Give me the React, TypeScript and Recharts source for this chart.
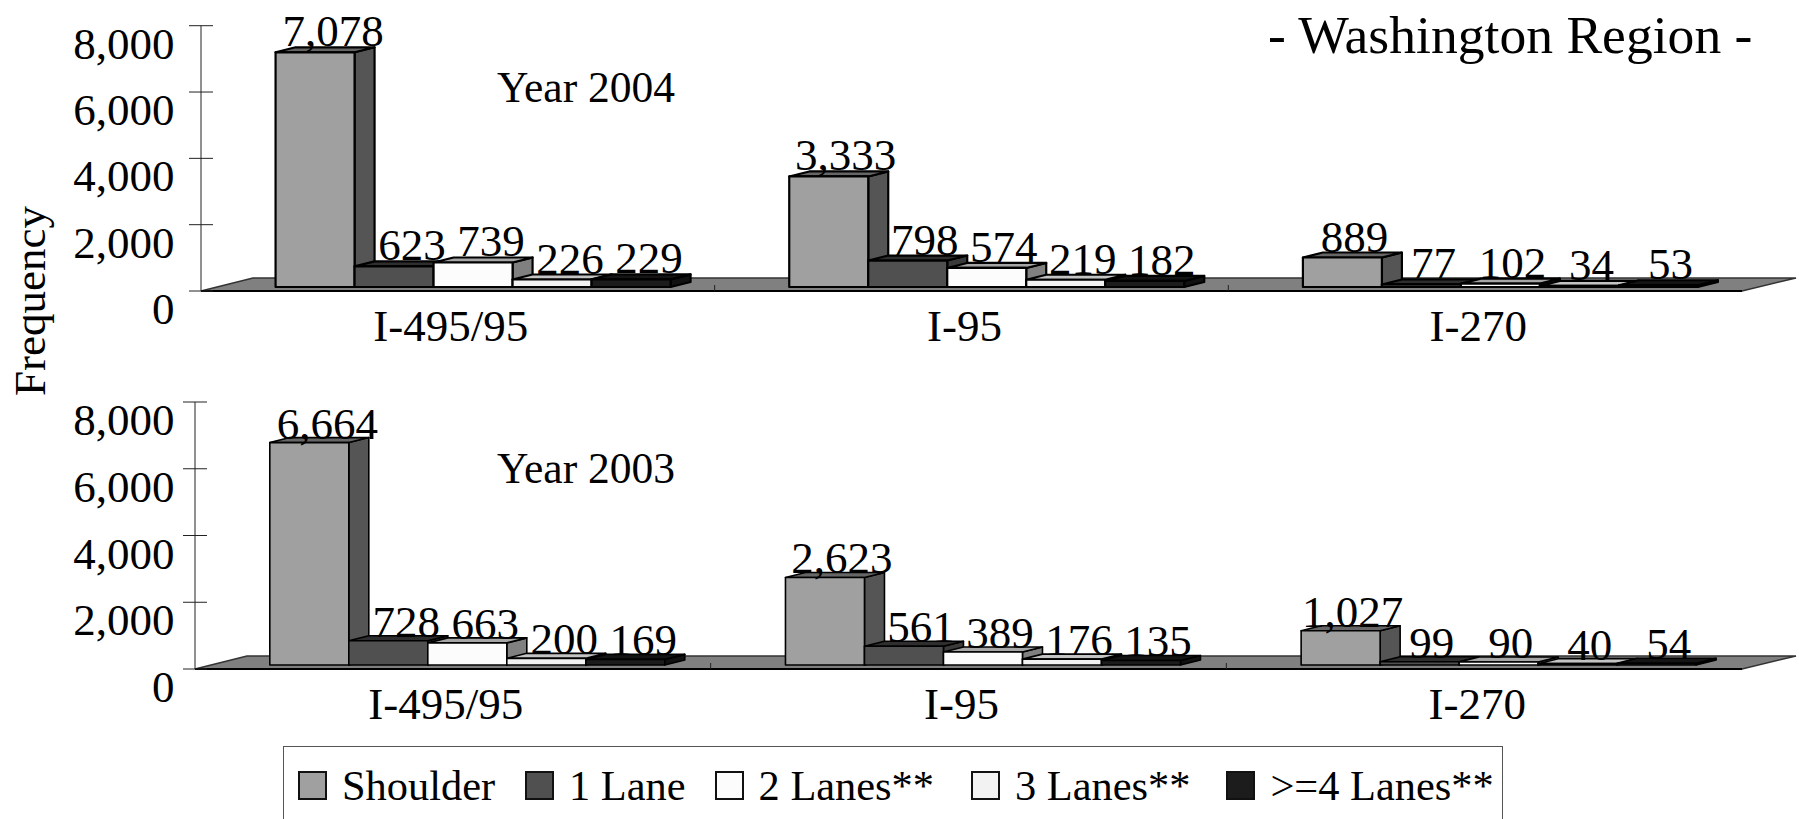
import { Bar, BarChart, LabelList, Legend, ReferenceArea, XAxis, YAxis } from "recharts";

const routes = ["I-495/95", "I-95", "I-270"];
const valueTicks = [0, 2000, 4000, 6000, 8000];

const seriesNames = ["Shoulder", "1 Lane", "2 Lanes**", "3 Lanes**", ">=4 Lanes**"];
const frontColors = ["#a0a0a0", "#505050", "#fcfcfc", "#f2f2f2", "#1c1c1c"];
const sideColors = ["#555555", "#3a3a3a", "#808080", "#8c8c8c", "#111111"];
const topColors = ["#666666", "#2e2e2e", "#a6a6a6", "#c4c4c4", "#141414"];

const shoulder2004 = [7078, 3333, 889];
const oneLane2004 = [623, 798, 77];
const twoLanes2004 = [739, 574, 102];
const threeLanes2004 = [226, 219, 34];
const fourLanes2004 = [229, 182, 53];

const shoulder2003 = [6664, 2623, 1027];
const oneLane2003 = [728, 561, 99];
const twoLanes2003 = [663, 389, 90];
const threeLanes2003 = [200, 176, 40];
const fourLanes2003 = [169, 135, 54];

const buildRows = (columns: number[][]) =>
  routes.map((route, i) => {
    const row: Record<string, string | number> = { route };
    seriesNames.forEach((name, s) => {
      row[name] = columns[s][i];
    });
    return row;
  });

const rows2004 = buildRows([shoulder2004, oneLane2004, twoLanes2004, threeLanes2004, fourLanes2004]);
const rows2003 = buildRows([shoulder2003, oneLane2003, twoLanes2003, threeLanes2003, fourLanes2003]);

const SERIF = '"Liberation Serif", "Times New Roman", serif';
const FONT_SIZE = 45;

// how far the bars sit in from the front edge of the floor, and the bar depth
const INSET_X = 15.5;
const INSET_Y = 4;
const DEPTH_X = 20;
const DEPTH_Y = 5;

// labels over the last group sit a little further left than the others
const routeLabelShift = [0, -1, -6];
const legendGaps = [0, 30, 29, 37, 36];

function Bar3D({ x, y, width, height, fill, side, top, strokeWidth }: any) {
  const l = x + INSET_X;
  const r = l + width;
  const t = y - INSET_Y;
  const b = t + height;
  const edge = { stroke: "#000", strokeWidth, strokeLinejoin: "round" as const };
  return (
    <g>
      <polygon points={`${r},${t} ${r + DEPTH_X},${t - DEPTH_Y} ${r + DEPTH_X},${b - DEPTH_Y} ${r},${b}`} fill={side} {...edge} />
      <polygon points={`${l},${t} ${l + DEPTH_X},${t - DEPTH_Y} ${r + DEPTH_X},${t - DEPTH_Y} ${r},${t}`} fill={top} {...edge} />
      <rect x={l} y={t} width={width} height={height} fill={fill} {...edge} />
    </g>
  );
}

function Floor({ x, y, width, height }: any) {
  const b = y + height;
  const step = width / routes.length;
  return (
    <g>
      <polygon
        points={`${x},${b} ${x + width},${b} ${x + width + 54},${b - 13} ${x + 52},${b - 13}`}
        fill="#808080"
        stroke="#333"
        strokeWidth={1.5}
      />
      <line x1={x} y1={b} x2={x + width} y2={b} stroke="#000" strokeWidth={2} />
      {routes.slice(1).map((route, i) => (
        <line key={route} x1={x + step * (i + 1)} y1={b} x2={x + step * (i + 1)} y2={b - 6} stroke="#222" />
      ))}
    </g>
  );
}

function ValueTick({ y, payload, labelX, axisX }: any) {
  return (
    <g>
      <line x1={axisX - 12} y1={y} x2={axisX + 12} y2={y} stroke="#222" strokeWidth={1} />
      <text x={labelX} y={y + 33} textAnchor="end" fontFamily={SERIF} fontSize={FONT_SIZE} fill="#000">
        {payload.value.toLocaleString("en-US")}
      </text>
    </g>
  );
}

function RouteTick({ x, y, payload }: any) {
  return (
    <text x={x - 7} y={y + 42} textAnchor="middle" fontFamily={SERIF} fontSize={FONT_SIZE} fill="#000">
      {payload.value}
    </text>
  );
}

function ValueLabel({ x, y, width, value, index, lift }: any) {
  return (
    <text
      x={x + INSET_X + width / 2 + 18 + routeLabelShift[index]}
      y={y - INSET_Y - lift}
      textAnchor="middle"
      fontFamily={SERIF}
      fontSize={FONT_SIZE}
      fill="#000"
    >
      {Number(value).toLocaleString("en-US")}
    </text>
  );
}

function LegendBox() {
  return (
    <div
      style={{
        width: 1220,
        height: 73,
        boxSizing: "border-box",
        border: "1.5px solid #555",
        borderBottom: "none",
        paddingLeft: 14,
        paddingTop: 21,
        display: "flex",
        fontFamily: SERIF,
        fontSize: 42.4,
        lineHeight: "36px",
        color: "#000",
        background: "#fff",
      }}
    >
      {seriesNames.map((name, s) => (
        <div key={name} style={{ display: "flex", alignItems: "flex-start", gap: 15, marginLeft: legendGaps[s] }}>
          <span
            style={{
              width: 29,
              height: 29,
              boxSizing: "border-box",
              border: "2px solid #111",
              background: frontColors[s],
              marginTop: 3,
            }}
          />
          <span style={{ whiteSpace: "nowrap" }}>{name}</span>
        </div>
      ))}
    </div>
  );
}

interface PanelProps {
  rows: Record<string, string | number>[];
  top: number;
  height: number;
  plotTop: number;
  plotBottom: number;
  axisX: number;
  labelX: number;
  lift: number;
  withLegend?: boolean;
}

function Panel({ rows, top, height, plotTop, plotBottom, axisX, labelX, lift, withLegend }: PanelProps) {
  return (
    <div style={{ position: "absolute", left: 0, top }}>
      <BarChart
        width={1799}
        height={height}
        data={rows}
        barCategoryGap="11.5%"
        barGap={0}
        margin={{ top: plotTop - top, right: 1799 - 1742, left: 0, bottom: top + height - plotBottom - 60 }}
      >
        <XAxis dataKey="route" height={60} axisLine={false} tickLine={false} interval={0} tick={<RouteTick />} />
        <YAxis
          width={axisX}
          domain={[0, 8000]}
          ticks={valueTicks}
          interval={0}
          axisLine={{ stroke: "#222", strokeWidth: 1 }}
          tickLine={false}
          tick={<ValueTick labelX={labelX} axisX={axisX} />}
        />
        <ReferenceArea
          x1={routes[0]}
          x2={routes[routes.length - 1]}
          y1={0}
          y2={1000}
          ifOverflow="visible"
          shape={<Floor />}
        />
        {seriesNames.map((name, s) => (
          <Bar
            key={name}
            dataKey={name}
            fill={frontColors[s]}
            isAnimationActive={false}
            shape={<Bar3D side={sideColors[s]} top={topColors[s]} strokeWidth={withLegend ? 1.6 : 2.2} />}
          >
            <LabelList dataKey={name} content={<ValueLabel lift={lift} />} />
          </Bar>
        ))}
        {withLegend && (
          <Legend
            layout="horizontal"
            verticalAlign="middle"
            align="center"
            wrapperStyle={{ left: 283, top: 746 - top, width: 1220 }}
            content={<LegendBox />}
          />
        )}
      </BarChart>
    </div>
  );
}

export default function App() {
  return (
    <div style={{ position: "absolute", left: 0, top: 0, width: 1799, height: 819, overflow: "hidden", background: "#fff" }}>
      <Panel rows={rows2004} top={0} height={360} plotTop={25.7} plotBottom={291} axisX={201} labelX={174.5} lift={6} />
      <Panel rows={rows2003} top={360} height={459} plotTop={402} plotBottom={669} axisX={195} labelX={174.5} lift={4} withLegend />
      <svg width={1799} height={819} style={{ position: "absolute", left: 0, top: 0, pointerEvents: "none" }} fontFamily={SERIF} fill="#000">
        <text x={1268} y={53} fontSize={53.6}>- Washington Region -</text>
        <text x={497} y={102} fontSize={43.5}>Year 2004</text>
        <text x={497} y={483} fontSize={43.5}>Year 2003</text>
        <text x={45} y={301} fontSize={45} textAnchor="middle" transform="rotate(-90 45 301)">Frequency</text>
      </svg>
    </div>
  );
}
